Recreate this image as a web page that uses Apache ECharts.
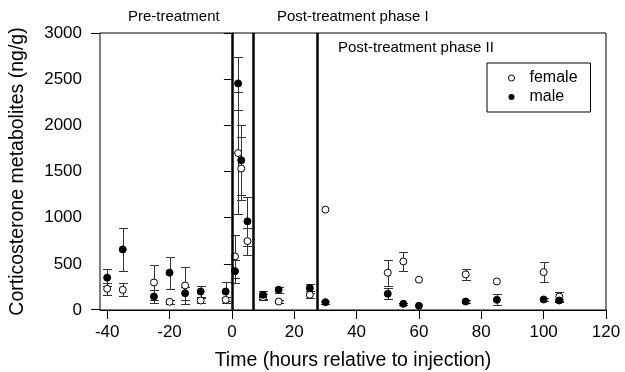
<!DOCTYPE html>
<html>
<head>
<meta charset="utf-8">
<script src="https://cdn.jsdelivr.net/npm/echarts@6/dist/echarts.min.js"></script>
<style>
  html, body { margin: 0; padding: 0; background: #fff; }
  #chart { width: 625px; height: 372px; }
</style>
</head>
<body>
<div id="chart"></div>
<script>
// sampling times (hours relative to injection), shared by both sexes
const hours = [-40, -35, -25, -20, -15, -10, -2, 1, 2, 3, 5, 10, 15, 25, 30, 50, 55, 60, 75, 85, 100, 105];
const femaleMean = [230, 219, 298, 89, 266, 103, 110, 580, 1700, 1532, 746, 140, 92, 165, 1087, 404, 526, 328, 385, 309, 410, 146];
const femaleErr  = [65, 72, 185, 20, 200, 25, 30, 230, 660, 345, 145, 30, 12, 40, 0, 140, 105, 0, 55, 0, 110, 45];
const maleMean   = [350, 656, 146, 404, 182, 200, 200, 421, 2454, 1622, 960, 165, 219, 237, 85, 176, 67, 46, 92, 111, 114, 103];
const maleErr    = [90, 230, 70, 175, 70, 60, 105, 125, 290, 380, 265, 45, 35, 50, 15, 60, 12, 0, 12, 58, 12, 15];
const phaseBounds = [0, 7, 27.5];
const phaseNames = ['Pre-treatment', 'Post-treatment phase I', 'Post-treatment phase II'];
const xTicks = [-40, -20, 0, 20, 40, 60, 80, 100, 120];

const FONT = '"Liberation Sans", Arial, Helvetica, sans-serif';

function errorData(mean, err) {
  const out = [];
  hours.forEach((h, i) => {
    if (err[i] > 0) out.push([h, mean[i] - err[i], mean[i] + err[i]]);
  });
  return out;
}

function renderBar(params, api) {
  const x = api.value(0);
  const lo = api.coord([x, api.value(1)]);
  const hi = api.coord([x, api.value(2)]);
  const cx = Math.round(lo[0]) + 0.5;
  const y1 = Math.round(lo[1]) + 0.5;
  const y2 = Math.round(hi[1]) + 0.5;
  const w = 4.5;
  const style = { stroke: '#333', lineWidth: 1, fill: null };
  return {
    type: 'group',
    children: [
      { type: 'line', shape: { x1: cx, y1: y1, x2: cx, y2: y2 }, style: style },
      { type: 'line', shape: { x1: cx - w, y1: y1, x2: cx + w, y2: y1 }, style: style },
      { type: 'line', shape: { x1: cx - w, y1: y2, x2: cx + w, y2: y2 }, style: style }
    ]
  };
}

const chart = echarts.init(document.getElementById('chart'), null, { renderer: 'canvas' });

const option = {
  animation: false,
  textStyle: { fontFamily: FONT, color: '#000' },
  grid: {
    left: 100, right: 19, top: 33, bottom: 62,
    outerBoundsMode: 'none',
    show: true, borderColor: '#000', borderWidth: 1, backgroundColor: 'transparent'
  },
  legend: {
    orient: 'vertical',
    left: 487, top: 63,
    data: [
      { name: 'female', itemStyle: { color: '#fff', borderColor: '#000', borderWidth: 1 } },
      { name: 'male', itemStyle: { color: '#000', borderColor: '#000', borderWidth: 0 } }
    ],
    borderColor: '#000', borderWidth: 1,
    padding: [7, 13, 7, 21],
    itemWidth: 6, itemHeight: 6, itemGap: 3,
    textStyle: { fontFamily: FONT, fontSize: 16, color: '#000', padding: [0, 0, 0, 10] }
  },
  xAxis: {
    type: 'value',
    min: -42.3, max: 120,
    name: 'Time (hours relative to injection)',
    nameLocation: 'middle',
    nameGap: 41,
    nameTextStyle: { fontFamily: FONT, fontSize: 19.5, color: '#000' },
    axisLine: { show: true, onZero: false, lineStyle: { color: '#000', width: 1 } },
    axisTick: { show: true, customValues: xTicks, length: 9, lineStyle: { color: '#000' } },
    axisLabel: { customValues: xTicks, margin: 14, fontFamily: FONT, fontSize: 17, color: '#000' },
    splitLine: { show: false }
  },
  yAxis: {
    type: 'value',
    min: 0, max: 3000, interval: 500,
    name: 'Corticosterone metabolites (ng/g)',
    nameLocation: 'middle',
    nameGap: 72,
    nameTextStyle: { fontFamily: FONT, fontSize: 19.5, color: '#000' },
    axisLine: { show: true, lineStyle: { color: '#000', width: 1 } },
    axisTick: { show: true, length: 8, lineStyle: { color: '#000' } },
    axisLabel: { margin: 18, fontFamily: FONT, fontSize: 17, color: '#000', formatter: v => String(v) },
    splitLine: { show: false }
  },
  graphic: [
    { type: 'line', shape: { x1: 91, y1: 33.5, x2: 100, y2: 33.5 }, style: { stroke: '#000', lineWidth: 1 } },
    { type: 'line', shape: { x1: 91, y1: 309.5, x2: 100, y2: 309.5 }, style: { stroke: '#000', lineWidth: 1 } },
    { type: 'text', left: 128, top: 9, style: { text: phaseNames[0], font: '15px ' + FONT, fill: '#000' } },
    { type: 'text', left: 277, top: 9, style: { text: phaseNames[1], font: '15px ' + FONT, fill: '#000' } },
    { type: 'text', left: 338, top: 40, style: { text: phaseNames[2], font: '15px ' + FONT, fill: '#000' } }
  ],
  series: [
    {
      name: 'phases',
      type: 'line',
      data: [],
      silent: true,
      markLine: {
        silent: true,
        symbol: ['none', 'none'],
        label: { show: false },
        lineStyle: { color: '#000', width: 2.5, type: 'solid' },
        data: phaseBounds.map(v => ({ xAxis: v }))
      }
    },
    {
      name: 'femaleErr',
      type: 'custom',
      renderItem: renderBar,
      data: errorData(femaleMean, femaleErr),
      z: 3, silent: true
    },
    {
      name: 'maleErr',
      type: 'custom',
      renderItem: renderBar,
      data: errorData(maleMean, maleErr),
      z: 3, silent: true
    },
    {
      name: 'female',
      type: 'scatter',
      symbol: 'circle',
      symbolSize: 7,
      itemStyle: { color: '#fff', borderColor: '#000', borderWidth: 1, opacity: 1 },
      data: hours.map((h, i) => [h, femaleMean[i]]),
      z: 4
    },
    {
      name: 'male',
      type: 'scatter',
      symbol: 'circle',
      symbolSize: 7,
      itemStyle: { color: '#000', borderColor: '#000', borderWidth: 1, opacity: 1 },
      data: hours.map((h, i) => [h, maleMean[i]]),
      z: 5
    }
  ]
};

chart.setOption(option);
</script>
</body>
</html>
